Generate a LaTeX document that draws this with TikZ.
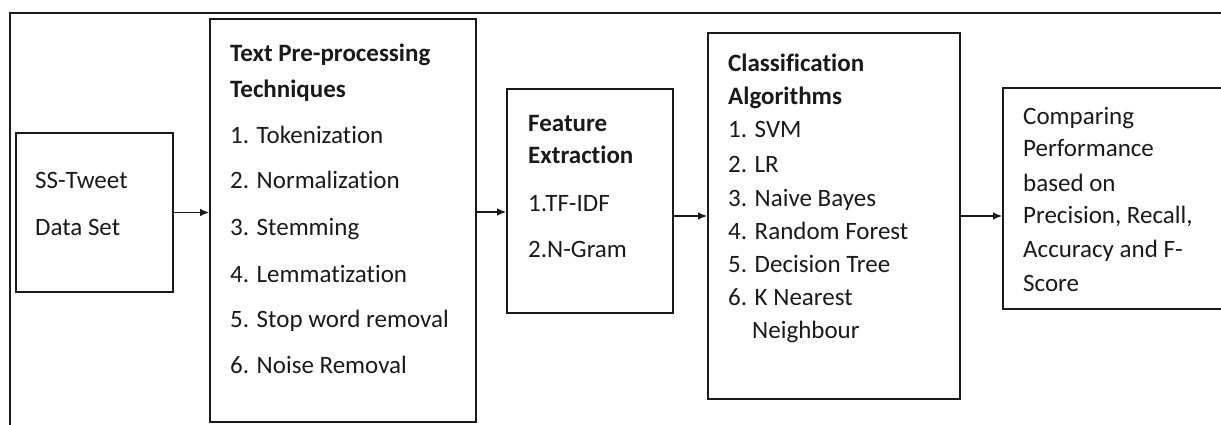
\documentclass[tikz,border=0pt]{standalone}
\usepackage{fontspec}
\setmainfont{Carlito}[Ligatures=NoCommon]
\usetikzlibrary{arrows.meta}
\definecolor{ink}{HTML}{1A1A1A}
\begin{document}
\begin{tikzpicture}[x=1pt,y=-1pt,
  box/.style={draw=ink,line width=1.6pt,inner sep=0pt},
  txt/.style={anchor=base west,inner sep=0pt,text=ink,font=\fontsize{25}{30}\selectfont},
  ttl/.style={txt,font=\fontsize{25}{30}\selectfont\bfseries},
  arr/.style={draw=ink,line width=1.4pt,-{Latex[length=9pt,width=7.5pt]}}]
\useasboundingbox (0,0) rectangle (1221,425);
\clip (0,0) rectangle (1221,425);
\fill[white] (0,0) rectangle (1221,425);
% open frame round the whole flow
\draw[ink,line width=1.6pt] (10,460) -- (10,13) -- (1240,13);

% boxes
\node[box,minimum width=157pt,minimum height=159pt] (b1) at (94.5,212.5) {};
\node[box,minimum width=266pt,minimum height=403pt] (b2) at (343,220.5) {};
\node[box,minimum width=166pt,minimum height=224pt] (b3) at (590,201) {};
\node[box,minimum width=252pt,minimum height=366pt] (b4) at (834,216) {};
\node[box,minimum width=227pt,minimum height=221pt] (b5) at (1116.5,198.5) {};

% box texts
\foreach \y/\s [count=\i] in {189/SS-Tweet, 235/Data Set}
  \node[txt] (t1-\i) at (35,\y) {\s};

\node[ttl] (h2-1) at (230,62) {Text Pre-processing};
\node[ttl] (h2-2) at (230,98) {Techniques};
\foreach \y/\s [count=\i] in {143/1. Tokenization, 189/2. Normalization, 235/3. Stemming,
    282/4. Lemmatization, 327/5. Stop word removal, 373/6. Noise Removal}
  \node[txt] (t2-\i) at (230,\y) {\s};

\node[ttl] (h3-1) at (528,132) {Feature};
\node[ttl] (h3-2) at (528,164) {Extraction};
\foreach \y/\s [count=\i] in {211/1.TF-IDF, 257/2.N-Gram}
  \node[txt] (t3-\i) at (528,\y) {\s};

\node[ttl] (h4-1) at (728,72) {Classification};
\node[ttl] (h4-2) at (728,105) {Algorithms};
\foreach \y/\s [count=\i] in {138/1. SVM, 172/2. LR, 206/3. Naive Bayes,
    239/4. Random Forest, 272/5. Decision Tree, 305/6. K Nearest}
  \node[txt] (t4-\i) at (728,\y) {\s};
\node[txt] (t4-7) at (752,338) {Neighbour};

\foreach \y/\s [count=\i] in {125/Comparing, 157/Performance, 191/based on,
    223/{Precision, Recall,}, 257/Accuracy and F-, 291/Score}
  \node[txt] (t5-\i) at (1023,\y) {\s};

% connectors
\coordinate (lvl2) at (0,212);
\draw[arr] (b1.east) -- (b1.east -| b2.west);
\draw[arr] (b2.east |- lvl2) -- (b3.west |- lvl2);
\draw[arr] (b3.east |- b4.west) -- (b4.west);
\draw[arr] (b4.east) -- (b4.east -| b5.west);
\end{tikzpicture}
\end{document}
